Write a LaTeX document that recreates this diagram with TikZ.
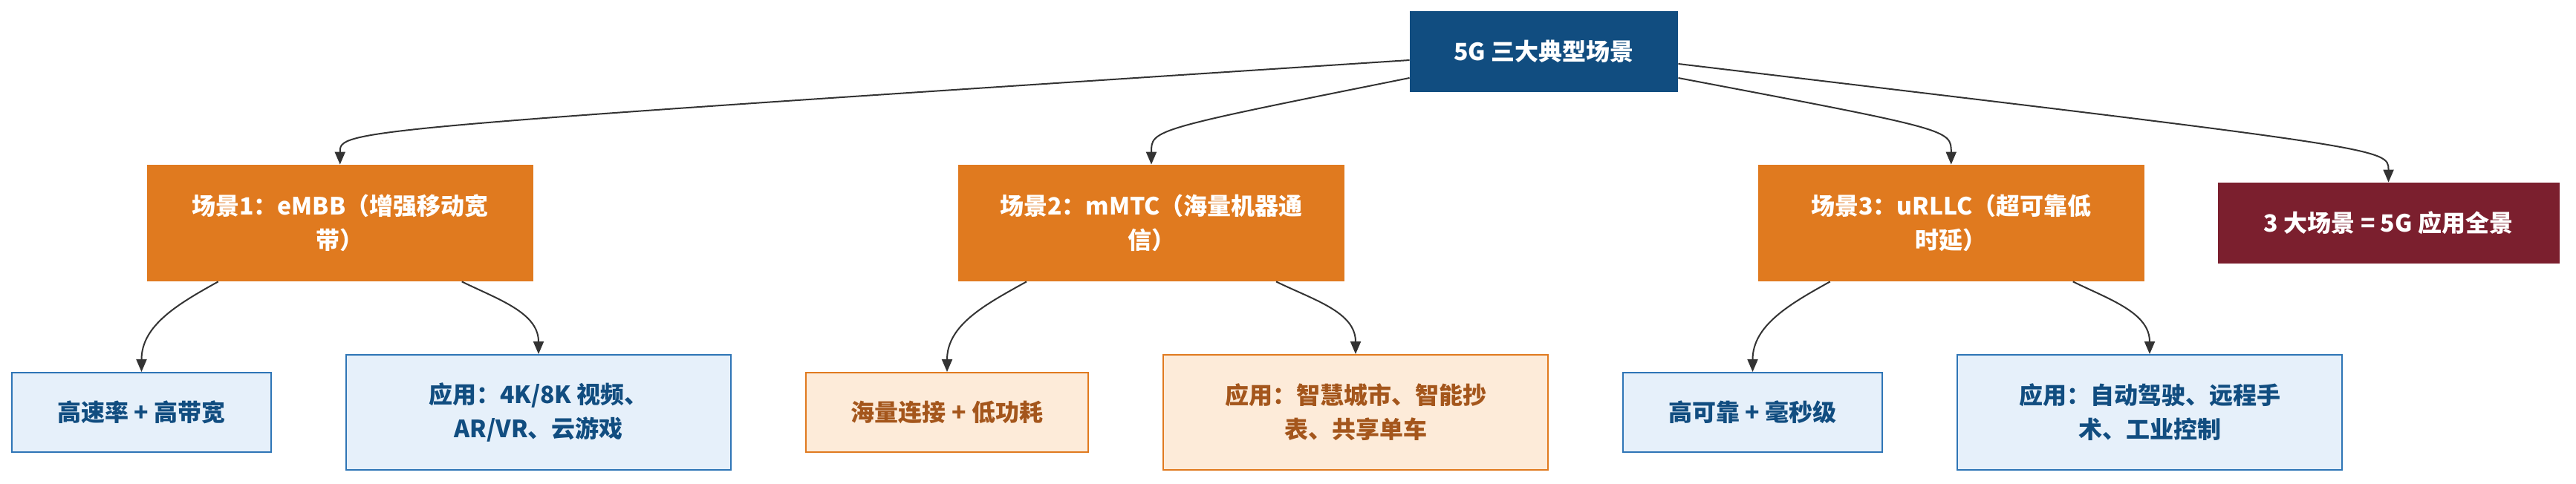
\documentclass[tikz,border=0pt]{standalone}
\usepackage{fontspec}
\setmainfont{Noto Sans CJK SC}
\usetikzlibrary{positioning,calc,arrows.meta}
\definecolor{navy}{HTML}{114D80}
\definecolor{scorange}{HTML}{E07A1F}
\definecolor{wine}{HTML}{7B1F2E}
\definecolor{bluefill}{HTML}{E6F0FA}
\definecolor{blueline}{HTML}{2E75B6}
\definecolor{orfill}{HTML}{FDEBD9}
\definecolor{ortext}{HTML}{A4561C}
\definecolor{edgegray}{HTML}{333333}

\begin{document}
\begin{tikzpicture}[
        font=\fontsize{16pt}{23pt}\selectfont\bfseries,
        box/.style={rectangle, align=center, inner sep=0pt},
        rootbox/.style={box, fill=navy, text=white, minimum width=180.5pt, minimum height=54.5pt},
        scene/.style={box, fill=scorange, text=white, minimum width=260pt, minimum height=78.5pt},
        total/.style={box, fill=wine, text=white, minimum width=230pt, minimum height=54.5pt},
        leafb/.style={box, draw=blueline, line width=1pt, fill=bluefill, text=navy, minimum height=53.5pt},
        leafo/.style={box, draw=scorange, line width=1pt, fill=orfill, text=ortext, minimum height=53.5pt},
        tall/.style={minimum height=77.5pt, minimum width=259pt},
        edge/.style={draw=edgegray, line width=1pt, -{Triangle[width=7pt,length=8.5pt]}}
    ]
        \useasboundingbox (0,0) rectangle (1734pt,326pt);
        \node[leafb, minimum width=174.5pt] (rate) at (95.25pt,48.25pt) {高速率 + 高带宽};
        \node[leafb, tall, right=49.5pt of rate] (embbapp) {应用：4K/8K 视频、\\AR/VR、云游戏};
        \node[leafo, minimum width=190pt, right=49.5pt of embbapp] (conn) {海量连接 + 低功耗};
        \node[leafo, tall, right=49.5pt of conn] (mmtcapp) {应用：智慧城市、智能抄\\表、共享单车};
        \node[leafb, minimum width=174.5pt, right=49.5pt of mmtcapp] (reliab) {高可靠 + 毫秒级};
        \node[leafb, tall, right=49.5pt of reliab] (urllcapp) {应用：自动驾驶、远程手\\术、工业控制};
        \node[scene] (embb) at ($(rate)!0.5!(embbapp)+(0,127.5pt)$) {场景1：eMBB（增强移动宽\\带）};
        \node[scene] (mmtc) at ($(conn)!0.5!(mmtcapp)+(0,127.5pt)$) {场景2：mMTC（海量机器通\\信）};
        \node[scene] (urllc) at ($(reliab)!0.5!(urllcapp)+(0,127.5pt)$) {场景3：uRLLC（超可靠低\\时延）};
        \node[total, right=49pt of urllc] (whole) {3 大场景 = 5G 应用全景};
        \node[rootbox] (root) at (1039.25pt,291.25pt) {5G 三大典型场景};
        \draw[edge] ([yshift=-5.75pt]root.west) .. controls ([yshift=23.5pt]embb.north) .. (embb.north);
        \draw[edge] ([yshift=-17.75pt]root.west) .. controls ([yshift=23.5pt]mmtc.north) .. (mmtc.north);
        \draw[edge] ([yshift=-17.75pt]root.east) .. controls ([yshift=23.5pt]urllc.north) .. (urllc.north);
        \draw[edge] ([yshift=-8.25pt]root.east) .. controls ([yshift=23pt]whole.north) .. (whole.north);
        \draw[edge] ([xshift=-82pt]embb.south) to[out=-151, in=90] (rate.north);
        \draw[edge] ([xshift=82pt]embb.south) to[out=-26, in=90] (embbapp.north);
        \draw[edge] ([xshift=-84pt]mmtc.south) to[out=-151, in=90] (conn.north);
        \draw[edge] ([xshift=84pt]mmtc.south) to[out=-26, in=90] (mmtcapp.north);
        \draw[edge] ([xshift=-81.5pt]urllc.south) to[out=-151, in=90] (reliab.north);
        \draw[edge] ([xshift=82pt]urllc.south) to[out=-26, in=90] (urllcapp.north);
\end{tikzpicture}
\end{document}
